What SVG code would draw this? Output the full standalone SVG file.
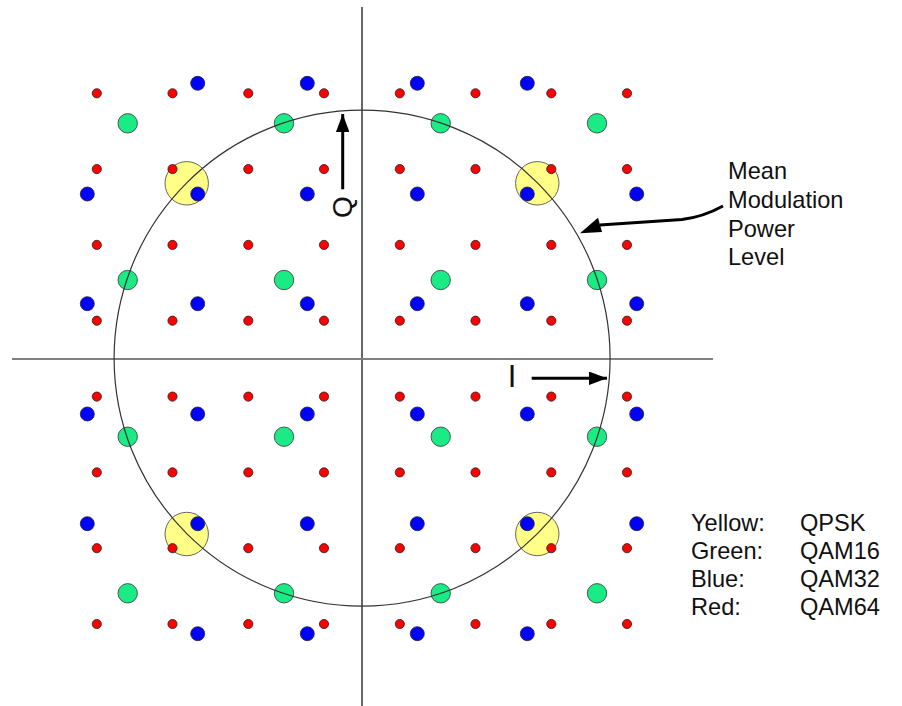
<svg xmlns="http://www.w3.org/2000/svg" width="902" height="706" viewBox="0 0 902 706">
<style>
  text { font-family: "Liberation Sans", Arial, sans-serif; fill: #111; }
  .lbl { font-size: 23.6px; }
  .r { fill: #ff0000; stroke: #222; stroke-width: 0.8; }
  .b { fill: #0000ff; stroke: #222; stroke-width: 0.8; }
  .g { fill: #1aeb84; stroke: #444; stroke-width: 0.9; }
  .y { fill: #ffff88; stroke: #555; stroke-width: 0.9; }
  .arr { stroke: #000; stroke-width: 3; fill: none; }
</style>
<defs>
  <marker id="ah" markerWidth="6" markerHeight="4.5" refX="6" refY="2.25" orient="auto" markerUnits="strokeWidth">
    <path d="M0,0 L6,2.25 L0,4.5 Z" fill="#000"/>
  </marker>
</defs>
<rect width="902" height="706" fill="#fff"/>
<g id="axes">
  <line x1="362" y1="7" x2="362" y2="706" stroke="#000" stroke-width="1.2"/>
  <line x1="12" y1="359" x2="713" y2="359" stroke="#808080" stroke-width="2"/>
</g>
<g id="qpsk">
  <circle class="y" cx="186.7" cy="183.3" r="21.7"/>
  <circle class="y" cx="537.3" cy="183.3" r="21.7"/>
  <circle class="y" cx="186.7" cy="534" r="21.7"/>
  <circle class="y" cx="537.3" cy="534" r="21.7"/>
</g>
<g id="qam16">
  <circle class="g" cx="127.7" cy="123.3" r="9.7"/>
  <circle class="g" cx="284" cy="123.3" r="9.7"/>
  <circle class="g" cx="440.7" cy="123.3" r="9.7"/>
  <circle class="g" cx="597" cy="123.3" r="9.7"/>
  <circle class="g" cx="127.7" cy="280" r="9.7"/>
  <circle class="g" cx="284" cy="280" r="9.7"/>
  <circle class="g" cx="440.7" cy="280" r="9.7"/>
  <circle class="g" cx="597" cy="280" r="9.7"/>
  <circle class="g" cx="127.7" cy="436.7" r="9.7"/>
  <circle class="g" cx="284" cy="436.7" r="9.7"/>
  <circle class="g" cx="440.7" cy="436.7" r="9.7"/>
  <circle class="g" cx="597" cy="436.7" r="9.7"/>
  <circle class="g" cx="127.7" cy="593.3" r="9.7"/>
  <circle class="g" cx="284" cy="593.3" r="9.7"/>
  <circle class="g" cx="440.7" cy="593.3" r="9.7"/>
  <circle class="g" cx="597" cy="593.3" r="9.7"/>
</g>
<g id="power-circle">
  <circle cx="362.1" cy="358.2" r="248" fill="none" stroke="#333" stroke-width="1.2"/>
</g>
<g id="qam32">
  <circle class="b" cx="197.7" cy="83.3" r="7"/>
  <circle class="b" cx="307.3" cy="83.3" r="7"/>
  <circle class="b" cx="417.3" cy="83.3" r="7"/>
  <circle class="b" cx="527.3" cy="83.3" r="7"/>
  <circle class="b" cx="87.3" cy="194" r="7"/>
  <circle class="b" cx="197.7" cy="194" r="7"/>
  <circle class="b" cx="307.3" cy="194" r="7"/>
  <circle class="b" cx="417.3" cy="194" r="7"/>
  <circle class="b" cx="527.3" cy="194" r="7"/>
  <circle class="b" cx="636.7" cy="194" r="7"/>
  <circle class="b" cx="87.3" cy="303.7" r="7"/>
  <circle class="b" cx="197.7" cy="303.7" r="7"/>
  <circle class="b" cx="307.3" cy="303.7" r="7"/>
  <circle class="b" cx="417.3" cy="303.7" r="7"/>
  <circle class="b" cx="527.3" cy="303.7" r="7"/>
  <circle class="b" cx="636.7" cy="303.7" r="7"/>
  <circle class="b" cx="87.3" cy="414" r="7"/>
  <circle class="b" cx="197.7" cy="414" r="7"/>
  <circle class="b" cx="307.3" cy="414" r="7"/>
  <circle class="b" cx="417.3" cy="414" r="7"/>
  <circle class="b" cx="527.3" cy="414" r="7"/>
  <circle class="b" cx="636.7" cy="414" r="7"/>
  <circle class="b" cx="87.3" cy="523.7" r="7"/>
  <circle class="b" cx="197.7" cy="523.7" r="7"/>
  <circle class="b" cx="307.3" cy="523.7" r="7"/>
  <circle class="b" cx="417.3" cy="523.7" r="7"/>
  <circle class="b" cx="527.3" cy="523.7" r="7"/>
  <circle class="b" cx="636.7" cy="523.7" r="7"/>
  <circle class="b" cx="197.7" cy="633.7" r="7"/>
  <circle class="b" cx="307.3" cy="633.7" r="7"/>
  <circle class="b" cx="417.3" cy="633.7" r="7"/>
  <circle class="b" cx="527.3" cy="633.7" r="7"/>
</g>
<g id="qam64">
  <circle class="r" cx="96.8" cy="93.3" r="4.6"/><circle class="r" cx="172.5" cy="93.3" r="4.6"/><circle class="r" cx="248.3" cy="93.3" r="4.6"/><circle class="r" cx="324" cy="93.3" r="4.6"/><circle class="r" cx="399.8" cy="93.3" r="4.6"/><circle class="r" cx="475.5" cy="93.3" r="4.6"/><circle class="r" cx="551.3" cy="93.3" r="4.6"/><circle class="r" cx="627" cy="93.3" r="4.6"/>
  <circle class="r" cx="96.8" cy="169.1" r="4.6"/><circle class="r" cx="172.5" cy="169.1" r="4.6"/><circle class="r" cx="248.3" cy="169.1" r="4.6"/><circle class="r" cx="324" cy="169.1" r="4.6"/><circle class="r" cx="399.8" cy="169.1" r="4.6"/><circle class="r" cx="475.5" cy="169.1" r="4.6"/><circle class="r" cx="551.3" cy="169.1" r="4.6"/><circle class="r" cx="627" cy="169.1" r="4.6"/>
  <circle class="r" cx="96.8" cy="244.9" r="4.6"/><circle class="r" cx="172.5" cy="244.9" r="4.6"/><circle class="r" cx="248.3" cy="244.9" r="4.6"/><circle class="r" cx="324" cy="244.9" r="4.6"/><circle class="r" cx="399.8" cy="244.9" r="4.6"/><circle class="r" cx="475.5" cy="244.9" r="4.6"/><circle class="r" cx="551.3" cy="244.9" r="4.6"/><circle class="r" cx="627" cy="244.9" r="4.6"/>
  <circle class="r" cx="96.8" cy="320.7" r="4.6"/><circle class="r" cx="172.5" cy="320.7" r="4.6"/><circle class="r" cx="248.3" cy="320.7" r="4.6"/><circle class="r" cx="324" cy="320.7" r="4.6"/><circle class="r" cx="399.8" cy="320.7" r="4.6"/><circle class="r" cx="475.5" cy="320.7" r="4.6"/><circle class="r" cx="551.3" cy="320.7" r="4.6"/><circle class="r" cx="627" cy="320.7" r="4.6"/>
  <circle class="r" cx="96.8" cy="396.6" r="4.6"/><circle class="r" cx="172.5" cy="396.6" r="4.6"/><circle class="r" cx="248.3" cy="396.6" r="4.6"/><circle class="r" cx="324" cy="396.6" r="4.6"/><circle class="r" cx="399.8" cy="396.6" r="4.6"/><circle class="r" cx="475.5" cy="396.6" r="4.6"/><circle class="r" cx="551.3" cy="396.6" r="4.6"/><circle class="r" cx="627" cy="396.6" r="4.6"/>
  <circle class="r" cx="96.8" cy="472.4" r="4.6"/><circle class="r" cx="172.5" cy="472.4" r="4.6"/><circle class="r" cx="248.3" cy="472.4" r="4.6"/><circle class="r" cx="324" cy="472.4" r="4.6"/><circle class="r" cx="399.8" cy="472.4" r="4.6"/><circle class="r" cx="475.5" cy="472.4" r="4.6"/><circle class="r" cx="551.3" cy="472.4" r="4.6"/><circle class="r" cx="627" cy="472.4" r="4.6"/>
  <circle class="r" cx="96.8" cy="548.2" r="4.6"/><circle class="r" cx="172.5" cy="548.2" r="4.6"/><circle class="r" cx="248.3" cy="548.2" r="4.6"/><circle class="r" cx="324" cy="548.2" r="4.6"/><circle class="r" cx="399.8" cy="548.2" r="4.6"/><circle class="r" cx="475.5" cy="548.2" r="4.6"/><circle class="r" cx="551.3" cy="548.2" r="4.6"/><circle class="r" cx="627" cy="548.2" r="4.6"/>
  <circle class="r" cx="96.8" cy="624" r="4.6"/><circle class="r" cx="172.5" cy="624" r="4.6"/><circle class="r" cx="248.3" cy="624" r="4.6"/><circle class="r" cx="324" cy="624" r="4.6"/><circle class="r" cx="399.8" cy="624" r="4.6"/><circle class="r" cx="475.5" cy="624" r="4.6"/><circle class="r" cx="551.3" cy="624" r="4.6"/><circle class="r" cx="627" cy="624" r="4.6"/>
</g>
<g id="connectors">
  <line class="arr" x1="342.7" y1="189.3" x2="342.7" y2="114" marker-end="url(#ah)"/>
  <line class="arr" x1="531.7" y1="378.3" x2="607" y2="378.3" marker-end="url(#ah)"/>
  <path class="arr" d="M723,206 Q703,217 682,219.5 L600,225" stroke-width="3.5"/>
  <polygon points="580,233.3 598,217.8 602,232" fill="#000"/>
</g>
<g id="label-q">
  <text transform="translate(342,207) rotate(-90)" text-anchor="middle" dy="0.36em" font-size="28">Q</text>
</g>
<g id="label-i">
  <text x="512" y="386.7" text-anchor="middle" font-size="31">I</text>
</g>
<g id="label-mean">
  <text class="lbl" x="728" y="179.3">Mean</text>
  <text class="lbl" x="728" y="208.3">Modulation</text>
  <text class="lbl" x="728" y="237.3">Power</text>
  <text class="lbl" x="728" y="265">Level</text>
</g>
<g id="legend">
  <text class="lbl" x="691" y="530.7">Yellow:</text>
  <text class="lbl" x="800" y="530.7">QPSK</text>
  <text class="lbl" x="691" y="559">Green:</text>
  <text class="lbl" x="800" y="559">QAM16</text>
  <text class="lbl" x="691" y="587.3">Blue:</text>
  <text class="lbl" x="800" y="587.3">QAM32</text>
  <text class="lbl" x="691" y="615">Red:</text>
  <text class="lbl" x="800" y="615">QAM64</text>
</g>
</svg>
